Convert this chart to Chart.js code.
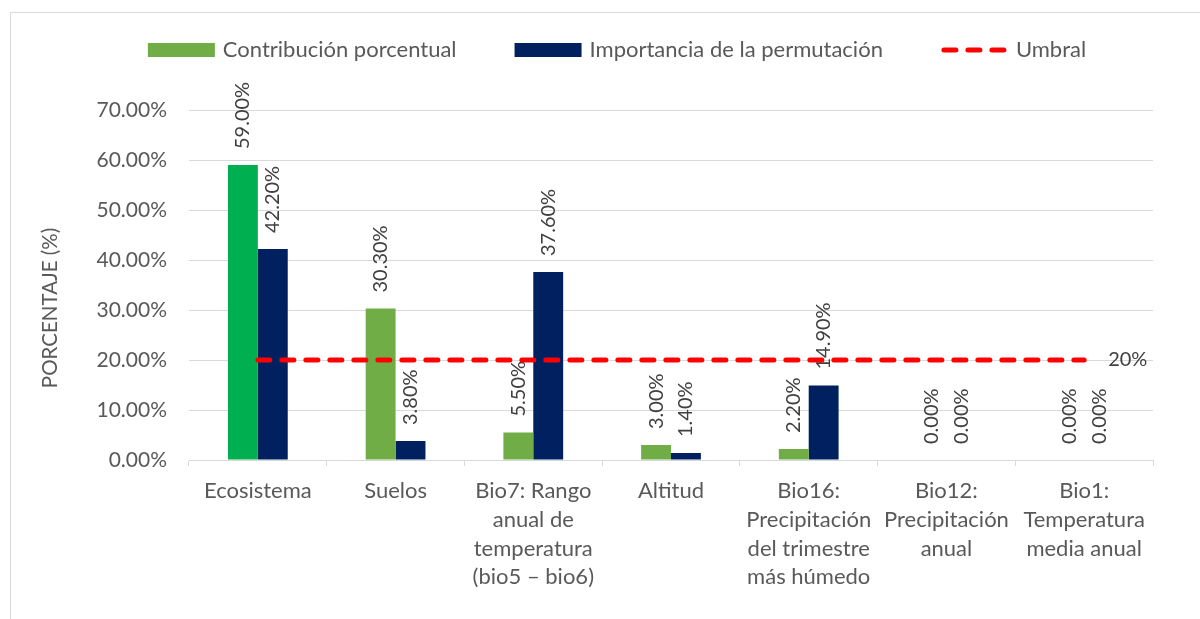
<!DOCTYPE html>
<html>
<head>
<meta charset="utf-8">
<script src="https://cdn.jsdelivr.net/npm/chart.js@4"></script>
<style>
  body { margin: 0; background: #fff; }
  #grafico { display: block; }
</style>
</head>
<body>
<canvas id="grafico" width="1200" height="619"></canvas>
<script>
// datos del grafico
var categorias = [
  'Ecosistema',
  'Suelos',
  ['Bio7: Rango', 'anual de', 'temperatura', '(bio5 \u2013 bio6)'],
  'Altitud',
  ['Bio16:', 'Precipitación', 'del trimestre', 'más húmedo'],
  ['Bio12:', 'Precipitación', 'anual'],
  ['Bio1:', 'Temperatura', 'media anual']
];
var contribucion = [59.0, 30.3, 5.5, 3.0, 2.2, 0.0, 0.0];
var permutacion = [42.2, 3.8, 37.6, 1.4, 14.9, 0.0, 0.0];
var umbral = [20, 20, 20, 20, 20, 20, 20];
var ticksY = [0, 10, 20, 30, 40, 50, 60, 70];

var fuente = 'Lato';
var grisTexto = '#595959';
var grisEtiqueta = '#404040';
var grisLinea = '#d9d9d9';

var coloresContribucion = contribucion.map(function (v, i) {
  return i == 0 ? '#00b050' : '#70ad47';
});

// marco, titulo del eje y leyenda
var pluginExtras = {
  id: 'extras',
  beforeDraw: function (chart) {
    var ctx = chart.ctx;
    ctx.save();
    ctx.fillStyle = '#fff';
    ctx.fillRect(0, 0, chart.width, chart.height);
    ctx.strokeStyle = grisLinea;
    ctx.lineWidth = 1;
    ctx.strokeRect(10.5, 12.5, chart.width + 20, chart.height + 20);
    ctx.restore();
  },
  afterDatasetDraw: function (chart, args) {
    var ds = chart.data.datasets[args.index];
    if (ds.type == 'line') return;
    var ctx = chart.ctx;
    ctx.save();
    ctx.font = '20px ' + fuente;
    ctx.fillStyle = grisEtiqueta;
    ctx.textAlign = 'left';
    ctx.textBaseline = 'middle';
    args.meta.data.forEach(function (bar, i) {
      ctx.save();
      ctx.translate(bar.x, bar.y - 16);
      ctx.rotate(-Math.PI / 2);
      ctx.fillText(ds.data[i].toFixed(2) + '%', 0, 0);
      ctx.restore();
    });
    ctx.restore();
  },
  afterDraw: function (chart) {
    var ctx = chart.ctx;
    var area = chart.chartArea;
    ctx.save();

    // etiqueta del umbral
    var metaLinea = chart.getDatasetMeta(2);
    var ultimo = metaLinea.data[metaLinea.data.length - 1];
    ctx.font = '20px ' + fuente;
    ctx.fillStyle = grisEtiqueta;
    ctx.textAlign = 'left';
    ctx.textBaseline = 'middle';
    ctx.fillText(umbral[umbral.length - 1] + '%', ultimo.x + 24, ultimo.y);

    // titulo eje y
    ctx.save();
    ctx.translate(50, area.bottom - 152);
    ctx.rotate(-Math.PI / 2);
    ctx.font = '20.5px ' + fuente;
    ctx.fillStyle = grisTexto;
    ctx.textAlign = 'center';
    ctx.textBaseline = 'middle';
    ctx.fillText('PORCENTAJE (%)', 0, 0);
    ctx.restore();

    // leyenda
    ctx.font = '22px ' + fuente;
    var items = chart.data.datasets.map(function (d) {
      return { texto: d.label, tipo: d.type, color: d.type == 'line' ? d.borderColor : '' };
    });
    items[0].color = '#70ad47';
    items[1].color = '#002060';
    var anchoMarca = 67, sep = 8, hueco = 58;
    var total = 0;
    items.forEach(function (it, i) {
      it.ancho = ctx.measureText(it.texto).width;
      total += anchoMarca + sep + it.ancho + (i < items.length - 1 ? hueco : 0);
    });
    var x = 617 - total / 2;
    var y = 50;
    items.forEach(function (it) {
      if (it.tipo == 'line') {
        ctx.save();
        ctx.strokeStyle = it.color;
        ctx.lineWidth = 5;
        ctx.lineCap = 'round';
        ctx.setLineDash([12, 12]);
        ctx.beginPath();
        ctx.moveTo(x + 3, y);
        ctx.lineTo(x + anchoMarca, y);
        ctx.stroke();
        ctx.restore();
      } else {
        ctx.fillStyle = it.color;
        ctx.fillRect(x, y - 7, anchoMarca, 14);
      }
      x += anchoMarca + sep;
      ctx.fillStyle = grisTexto;
      ctx.textAlign = 'left';
      ctx.textBaseline = 'middle';
      ctx.fillText(it.texto, x, y);
      x += it.ancho + hueco;
    });
    ctx.restore();
  }
};

new Chart(document.getElementById('grafico'), {
  type: 'bar',
  data: {
    labels: categorias,
    datasets: [
      {
        label: 'Contribución porcentual',
        data: contribucion,
        backgroundColor: coloresContribucion,
        order: 1
      },
      {
        label: 'Importancia de la permutación',
        data: permutacion,
        backgroundColor: '#002060',
        order: 1
      },
      {
        type: 'line',
        label: 'Umbral',
        data: umbral,
        borderColor: '#ff0000',
        borderWidth: 5,
        borderDash: [12, 12],
        borderCapStyle: 'round',
        pointRadius: 0,
        fill: false,
        order: 0
      }
    ]
  },
  options: {
    responsive: false,
    animation: false,
    layout: { padding: { left: 0, right: 47, top: 110, bottom: 0 } },
    datasets: {
      bar: { categoryPercentage: 0.434, barPercentage: 1 }
    },
    plugins: {
      legend: { display: false },
      tooltip: { enabled: false }
    },
    scales: {
      x: {
        grid: {
          offset: true,
          drawOnChartArea: false,
          drawTicks: true,
          tickLength: 6,
          color: grisLinea
        },
        border: { color: grisLinea },
        ticks: {
          color: grisTexto,
          font: { family: fuente, size: 22, lineHeight: 1.3 },
          padding: 11,
          maxRotation: 0,
          autoSkip: false
        },
        afterFit: function (scale) { scale.height = 159; }
      },
      y: {
        min: 0,
        max: 70,
        afterBuildTicks: function (scale) {
          scale.ticks = ticksY.map(function (v) { return { value: v }; });
        },
        grid: { color: grisLinea, drawTicks: false },
        border: { display: false },
        ticks: {
          color: grisTexto,
          font: { family: fuente, size: 21 },
          padding: 22,
          callback: function (v) { return v.toFixed(2) + '%'; }
        },
        afterFit: function (scale) { scale.width = 189; }
      }
    }
  },
  plugins: [pluginExtras]
});
</script>
</body>
</html>
